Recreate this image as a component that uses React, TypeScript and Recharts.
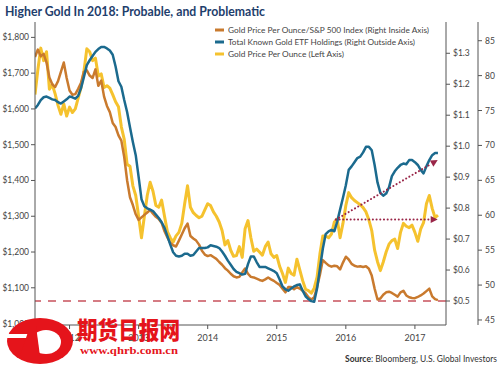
import React from "react";
import { LineChart, Line, XAxis, YAxis, ReferenceLine, Legend } from "recharts";

// ---- data (semi-monthly observations, Jan 2012 - Nov 2017) ----
const START_YEAR = 2012;
const PERIODS_PER_YEAR = 24;

// Gold price per ounce (USD, left axis)
const goldPrice = [
  1640, 1710, 1770, 1735, 1760, 1655, 1668, 1642, 1610, 1585,
  1614, 1580, 1605, 1590, 1600, 1630, 1660, 1705, 1768, 1760,
  1735, 1742, 1692, 1698, 1660, 1665, 1658, 1640, 1620, 1606,
  1550, 1515, 1445, 1440, 1385, 1358, 1300, 1240, 1300, 1358,
  1395, 1370, 1330, 1325, 1345, 1300, 1257, 1240, 1228, 1245,
  1255, 1280, 1335, 1385, 1325, 1310, 1302, 1296, 1300, 1318,
  1335, 1330, 1312, 1300, 1284, 1260, 1220, 1232, 1205, 1188,
  1190, 1215, 1185, 1265, 1288, 1240, 1202, 1208, 1200, 1191,
  1215, 1228, 1195, 1185, 1190, 1160, 1140, 1115, 1155, 1140,
  1135, 1180, 1150, 1120, 1096, 1092, 1085, 1099, 1130, 1195,
  1245, 1245, 1240, 1250, 1284, 1292, 1240, 1280, 1330, 1366,
  1352, 1344, 1338, 1332, 1324, 1312, 1290, 1260, 1205, 1173,
  1148, 1172, 1200, 1222, 1232, 1236, 1210, 1255, 1280, 1272,
  1268, 1275, 1255, 1230, 1264, 1282, 1335, 1358, 1322, 1296,
  1303,
];

// Total known gold ETF holdings (million oz, right outside axis)
const etfHoldings = [
  75.3, 75.8, 76.5, 76.9, 77.0, 76.8, 76.6, 76.5, 76.2, 76.0,
  76.3, 76.6, 77.0, 76.9, 76.7, 77.1, 78.2, 79.8, 81.5, 82.2,
  82.8, 83.4, 83.8, 84.1, 84.1, 83.9, 83.6, 83.0, 81.3, 79.2,
  78.4, 76.5, 74.8, 72.6, 70.5, 68.6, 65.5, 62.3, 61.3, 61.0,
  60.8, 60.6, 60.1, 59.6, 59.0, 58.2, 57.0, 55.8, 54.7, 54.2,
  54.1, 54.2, 54.5, 54.5, 54.2, 54.3, 54.8, 55.3, 55.3, 55.3,
  55.4, 55.7, 55.6, 55.5, 55.3, 54.8, 54.2, 53.5, 52.9, 52.3,
  51.9, 51.7, 51.5, 51.6, 53.0, 54.1, 54.1, 53.3, 52.6, 52.6,
  52.6, 52.4, 52.2, 52.0, 51.7, 50.8, 49.8, 49.4, 49.2, 49.5,
  49.8, 50.0, 50.1, 49.2, 48.4, 48.0, 47.7, 47.6, 49.5, 52.4,
  55.2, 57.3, 57.7, 57.9, 57.7, 59.1, 60.8, 62.5, 64.3, 66.5,
  67.0, 67.6, 68.2, 68.4, 69.0, 69.8, 69.8, 69.3, 67.2, 64.7,
  63.2, 62.8, 63.1, 64.0, 65.6, 66.3, 66.8, 67.2, 67.4, 67.3,
  67.9, 67.9, 67.6, 67.2, 66.5, 66.0, 67.0, 67.9, 68.6, 68.9,
  68.9,
];

// Gold price per ounce / S&P 500 index (right inside axis)
const goldToSpx = [
  1.288, 1.312, 1.290, 1.298, 1.270, 1.222, 1.200, 1.191, 1.210, 1.240,
  1.270, 1.220, 1.180, 1.166, 1.168, 1.185, 1.205, 1.240, 1.245, 1.228,
  1.220, 1.248, 1.195, 1.212, 1.160, 1.130, 1.110, 1.075, 1.062, 1.035,
  1.018, 0.965, 0.890, 0.835, 0.810, 0.780, 0.762, 0.770, 0.778, 0.786,
  0.794, 0.782, 0.772, 0.765, 0.752, 0.725, 0.705, 0.688, 0.680, 0.676,
  0.695, 0.715, 0.735, 0.750, 0.710, 0.702, 0.695, 0.682, 0.662, 0.650,
  0.645, 0.648, 0.642, 0.636, 0.626, 0.617, 0.606, 0.598, 0.588, 0.580,
  0.576, 0.578, 0.592, 0.605, 0.588, 0.578, 0.576, 0.572, 0.568, 0.565,
  0.570, 0.576, 0.570, 0.565, 0.558, 0.552, 0.540, 0.528, 0.545, 0.545,
  0.538, 0.545, 0.540, 0.533, 0.525, 0.512, 0.505, 0.512, 0.545, 0.585,
  0.632, 0.623, 0.615, 0.611, 0.614, 0.612, 0.602, 0.624, 0.643, 0.634,
  0.620, 0.614, 0.611, 0.612, 0.610, 0.612, 0.604, 0.582, 0.540, 0.505,
  0.508, 0.520, 0.528, 0.530, 0.526, 0.520, 0.514, 0.528, 0.533, 0.518,
  0.512, 0.510, 0.509, 0.513, 0.518, 0.524, 0.532, 0.540, 0.515, 0.506,
  0.503,
];

const YEAR_LABELS = ["2012", "2013", "2014", "2015", "2016", "2017"];
const LEFT_TICKS = [1000, 1100, 1200, 1300, 1400, 1500, 1600, 1700, 1800];
const INNER_TICKS = [0.5, 0.6, 0.7, 0.8, 0.9, 1.0, 1.1, 1.2, 1.3];
const OUTER_TICKS = [45, 50, 55, 60, 65, 70, 75, 80, 85];

// trend annotations (start/end in time and ratio units)
const FLAT_ARROW = [{ t: 2016.355, v: 0.763 }, { t: 2017.83, v: 0.763 }];
const UP_ARROW = [{ t: 2016.355, v: 0.763 }, { t: 2017.83, v: 0.955 }];
const BASELINE_RATIO = 0.5;

const SERIES = [
  { key: "ratio", name: "Gold Price Per Ounce/S&P 500 Index (Right Inside Axis)", color: "#C97A2E" },
  { key: "etf", name: "Total Known Gold ETF Holdings (Right Outside Axis)", color: "#1B6A8E" },
  { key: "gold", name: "Gold Price Per Ounce (Left Axis)", color: "#F5C22E" },
];
const LEGEND_TEXT_WIDTHS = [201, 187, 116];

const data = goldPrice.map((g, i) => ({
  t: START_YEAR + i / PERIODS_PER_YEAR,
  gold: g,
  etf: etfHoldings[i],
  ratio: goldToSpx[i],
}));

const FONT = "Lato, 'Open Sans', sans-serif";
const AXIS = "#555";
const TICK_TEXT = { fontSize: 8.5, fill: "#444", fontFamily: FONT };
const ARROW = "#9A2648";

const ArrowShape = (props: any) => {
  const { x1, y1, x2, y2 } = props;
  if ([x1, y1, x2, y2].some((v) => typeof v !== "number" || isNaN(v))) return <g />;
  const ang = Math.atan2(y2 - y1, x2 - x1);
  const L = 7;
  const W = 3.5;
  const bx = x2 - L * Math.cos(ang);
  const by = y2 - L * Math.sin(ang);
  const px = -Math.sin(ang) * W;
  const py = Math.cos(ang) * W;
  return (
    <g>
      <line x1={x1} y1={y1} x2={bx} y2={by} stroke={ARROW} strokeWidth={2}
        strokeDasharray="0.1 3.6" strokeLinecap="round" />
      <polygon points={`${x2},${y2} ${bx + px},${by + py} ${bx - px},${by - py}`} fill={ARROW} />
    </g>
  );
};

const LegendBox = () => (
  <svg width={240} height={40} style={{ display: "block" }}>
    {SERIES.map((s, i) => (
      <g key={s.key} transform={`translate(0, ${i * 12})`}>
        <line x1={5} x2={14} y1={6} y2={6} stroke={s.color} strokeWidth={3} />
        <text x={18} y={9} fontSize={8.3} fill="#444" fontFamily={FONT}
          textLength={LEGEND_TEXT_WIDTHS[i]} lengthAdjust="spacingAndGlyphs">{s.name}</text>
      </g>
    ))}
  </svg>
);

export default function App() {
  return (
    <div style={{ position: "absolute", left: 0, top: 0, width: 500, height: 365, background: "#fff" }}>
      <LineChart width={500} height={365} data={data} margin={{ top: 22, right: 0, left: 0, bottom: 20 }}>
        <XAxis
          dataKey="t"
          type="number"
          domain={[2012, 2017.95]}
          ticks={YEAR_LABELS.map((y) => Number(y) + 0.5)}
          tickFormatter={(v: number) => String(Math.floor(v))}
          height={20}
          tickSize={4}
          tickMargin={6}
          stroke={AXIS}
          tick={{ ...TICK_TEXT, fontSize: 9 }}
          allowDataOverflow
        />
        <YAxis
          yAxisId="left"
          orientation="left"
          width={35}
          domain={[996, 1843]}
          ticks={LEFT_TICKS}
          tickFormatter={(v: number) => "$" + v.toLocaleString("en-US")}
          tickSize={4}
          tickMargin={2}
          stroke={AXIS}
          tick={TICK_TEXT}
          allowDataOverflow
        />
        <YAxis
          yAxisId="inner"
          orientation="right"
          width={32}
          domain={[0.4225, 1.401]}
          ticks={INNER_TICKS}
          tickFormatter={(v: number) => "$" + v.toFixed(1)}
          tickSize={4}
          tickMargin={3}
          stroke={AXIS}
          tick={TICK_TEXT}
          allowDataOverflow
        />
        <YAxis
          yAxisId="outer"
          orientation="right"
          width={22}
          domain={[44.28, 87.68]}
          ticks={OUTER_TICKS}
          tickSize={4}
          tickMargin={3}
          stroke={AXIS}
          tick={TICK_TEXT}
          allowDataOverflow
        />
        <Legend
          layout="vertical"
          align="center"
          verticalAlign="middle"
          content={<LegendBox />}
          wrapperStyle={{ position: "absolute", top: 24, left: 210, width: 240, height: 40 }}
        />
        <ReferenceLine yAxisId="inner" y={BASELINE_RATIO} stroke="#C8525C" strokeWidth={1.3} strokeDasharray="8 7" />
        <Line yAxisId="left" dataKey="gold" name={SERIES[2].name} stroke={SERIES[2].color} strokeWidth={3}
          dot={false} isAnimationActive={false} strokeLinejoin="round" />
        <Line yAxisId="inner" dataKey="ratio" name={SERIES[0].name} stroke={SERIES[0].color} strokeWidth={2.5}
          dot={false} isAnimationActive={false} strokeLinejoin="round" />
        <Line yAxisId="outer" dataKey="etf" name={SERIES[1].name} stroke={SERIES[1].color} strokeWidth={2.5}
          dot={false} isAnimationActive={false} strokeLinejoin="round" />
        <ReferenceLine yAxisId="inner" segment={[{ x: FLAT_ARROW[0].t, y: FLAT_ARROW[0].v }, { x: FLAT_ARROW[1].t, y: FLAT_ARROW[1].v }]}
          shape={ArrowShape} />
        <ReferenceLine yAxisId="inner" segment={[{ x: UP_ARROW[0].t, y: UP_ARROW[0].v }, { x: UP_ARROW[1].t, y: UP_ARROW[1].v }]}
          shape={ArrowShape} />
      </LineChart>
      <svg width={500} height={365} style={{ position: "absolute", left: 0, top: 0, pointerEvents: "none" }}>
        <text x={5} y={16} fontSize={13} fontWeight={700} fill="#1E3E6C" fontFamily={FONT}
          textLength={260} lengthAdjust="spacingAndGlyphs">
          Higher Gold In 2018: Probable, and Problematic
        </text>
        <text x={345} y={362} fontSize={8.5} fill="#333" fontFamily={FONT} textLength={152} lengthAdjust="spacingAndGlyphs">
          <tspan fontWeight={700}>Source</tspan>: Bloomberg, U.S. Global Investors
        </text>
        {/* watermark */}
        <g>
          <ellipse cx={40} cy={341} rx={33} ry={23} fill="#E5141B" />
          <ellipse cx={46} cy={342} rx={15} ry={12} fill="#fff" />
          <rect x={6} y={334} width={22} height={4} fill="#fff" />
          <path d="M20,356 L30,326 L36,326 L40,356 Z" fill="#E5141B" />
          <text x={77} y={339} fontSize={24} fontWeight={900} fill="#E5141B"
            fontFamily="'Noto Sans CJK SC', sans-serif" textLength={103} lengthAdjust="spacingAndGlyphs">期货日报网</text>
          <text x={80} y={354} fontSize={11} fontWeight={700} fill="#E5141B"
            fontFamily="'Liberation Serif', serif" textLength={98} lengthAdjust="spacingAndGlyphs">www.qhrb.com.cn</text>
        </g>
      </svg>
    </div>
  );
}
